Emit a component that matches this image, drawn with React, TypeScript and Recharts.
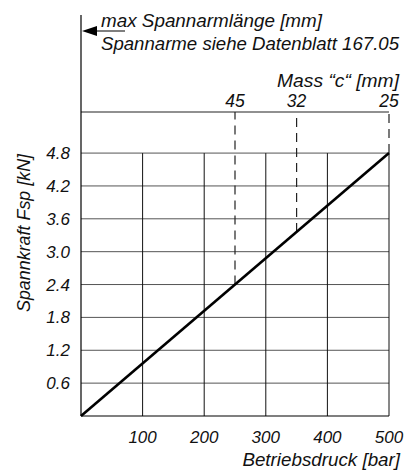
import { ComposedChart, Line, XAxis, YAxis, ReferenceLine, Label } from 'recharts';

const pressure = [0, 500];
const force = [0, 4.8];
const yTicks = [0.6, 1.2, 1.8, 2.4, 3.0, 3.6, 4.2, 4.8];
const xTicks = [100, 200, 300, 400, 500];
const massLabels = ['45', '32', '25'];
const massPressure = [250, 350, 500];
const massForce = [2.4, 3.36, 4.8];
const yTop = 5.55;

const data = pressure.map((p, i) => ({ p, f: force[i] }));

const FONT = '"Liberation Sans", Arial, sans-serif';
const txt = { fontFamily: FONT, fontStyle: 'italic', fill: '#111' } as const;

export default function App() {
  return (
    <div style={{ position: 'absolute', left: 0, top: 0, width: 418, height: 470, background: '#fff' }}>
      <ComposedChart width={418} height={470} data={data} margin={{ top: 112, right: 29, bottom: 24, left: 0 }}>
        <XAxis
          dataKey="p"
          type="number"
          domain={[0, 500]}
          ticks={xTicks}
          tickLine={false}
          tickMargin={9}
          height={30}
          axisLine={{ stroke: '#000', strokeWidth: 1.2 }}
          tick={{ ...txt, fontSize: 17 }}
        >
          <Label value="Betriebsdruck [bar]" position="insideBottomRight" offset={0} dx={11} dy={20} style={{ ...txt, fontSize: 18.8 }} />
        </XAxis>
        <YAxis
          type="number"
          domain={[0, yTop]}
          ticks={yTicks}
          tickFormatter={(v: number) => v.toFixed(1)}
          tickLine={false}
          tickMargin={5}
          width={81}
          axisLine={{ stroke: '#000', strokeWidth: 1.2 }}
          tick={{ ...txt, fontSize: 17 }}
        >
          <Label value="Spannkraft Fsp [kN]" angle={-90} position="insideLeft" dx={19} dy={-31} style={{ ...txt, fontSize: 17.9, textAnchor: 'middle' }} />
        </YAxis>
        {yTicks.map((t) => (
          <ReferenceLine key={'h' + t} y={t} stroke="#555" strokeWidth={1} />
        ))}
        <ReferenceLine y={yTop} stroke="#222" strokeWidth={1.2} />
        {xTicks.map((t) => (
          <ReferenceLine key={'v' + t} segment={[{ x: t, y: 0 }, { x: t, y: 4.8 }]} stroke="#111" strokeWidth={1} />
        ))}
        {massPressure.map((p, i) => (
          <ReferenceLine
            key={'m' + p}
            segment={[{ x: p, y: massForce[i] }, { x: p, y: yTop }]}
            stroke="#222"
            strokeWidth={1.2}
            strokeDasharray="9 6"
          >
            <Label value={massLabels[i]} position="top" offset={5} style={{ ...txt, fontSize: 17.5 }} />
          </ReferenceLine>
        ))}
        <Line dataKey="f" stroke="#000" strokeWidth={2.6} dot={false} isAnimationActive={false} />
      </ComposedChart>
      <svg width={418} height={470} style={{ position: 'absolute', left: 0, top: 0, pointerEvents: 'none' }}>
        <line x1={81} y1={15} x2={81} y2={112} stroke="#000" strokeWidth={1.2} />
        <line x1={92} y1={31} x2={125} y2={31} stroke="#000" strokeWidth={1.2} />
        <polygon points="82,31 97,26 97,36" fill="#000" />
        <text x={101} y={27} {...txt} fontSize={18} textLength={221} lengthAdjust="spacingAndGlyphs">max Spannarmlänge [mm]</text>
        <text x={101} y={50} {...txt} fontSize={18} textLength={298} lengthAdjust="spacingAndGlyphs">Spannarme siehe Datenblatt 167.05</text>
        <text x={399} y={87} {...txt} fontSize={18.5} textAnchor="end" textLength={122} lengthAdjust="spacingAndGlyphs">Mass “c“ [mm]</text>
      </svg>
    </div>
  );
}
